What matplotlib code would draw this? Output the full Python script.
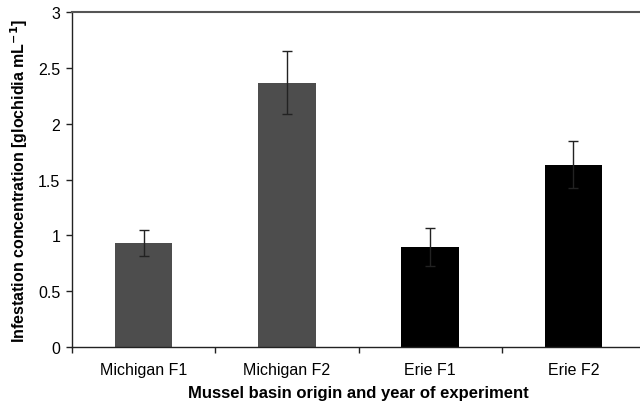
import matplotlib
matplotlib.use("Agg")
import matplotlib.pyplot as plt
import numpy as np

plt.rcParams['font.family'] = ['Liberation Sans', 'DejaVu Sans']

categories = ["Michigan F1", "Michigan F2", "Erie F1", "Erie F2"]
values = [0.935, 2.37, 0.895, 1.635]
errors = [0.115, 0.28, 0.17, 0.21]
bar_colors = ["#4d4d4d", "#4d4d4d", "#000000", "#000000"]
yticks = [0, 0.5, 1, 1.5, 2, 2.5, 3]
ytick_labels = ["0", "0.5", "1", "1.5", "2", "2.5", "3"]

fig = plt.figure(figsize=(6.4, 4.06), dpi=100)
ax = fig.add_axes([72/640, (406-348)/406, (645-72)/640, (348-13.3)/406])

x = np.arange(len(categories))
ax.bar(x, values, width=0.4, color=bar_colors, zorder=2)
ax.errorbar(x, values, yerr=errors, fmt='none', ecolor='#222222', elinewidth=1.0,
            capsize=3.6, capthick=1.0, zorder=3)

ax.set_xlim(-0.5, len(categories) - 0.5)
ax.set_ylim(0, 3)
ax.set_yticks(yticks)
ax.set_yticklabels(ytick_labels)
ax.set_xticks(x)
ax.set_xticklabels(categories)
ax.set_xticks(np.arange(len(categories) + 1) - 0.5, minor=True)

ax.tick_params(axis='x', which='major', length=0, pad=10.5, labelsize=11.5)
ax.tick_params(axis='x', which='minor', length=4.5, width=1.0, direction='out', color='#222222')
ax.tick_params(axis='y', length=4.5, width=1.0, direction='out', pad=4, labelsize=11.5, color='#222222')

for s in ['left', 'bottom']:
    ax.spines[s].set_color('#222222')
    ax.spines[s].set_linewidth(1.0)
ax.spines['right'].set_visible(False)
ax.spines['top'].set_color('#555555')
ax.spines['top'].set_linewidth(1.5)

ax.set_xlabel("Mussel basin origin and year of experiment", fontsize=12,
              fontweight='bold', labelpad=6)
ax.set_ylabel("Infestation concentration [glochidia mL$^{\\mathbf{-1}}$]", fontsize=11.5,
              fontweight='bold', labelpad=6)

fig.savefig("out.png", dpi=100)
